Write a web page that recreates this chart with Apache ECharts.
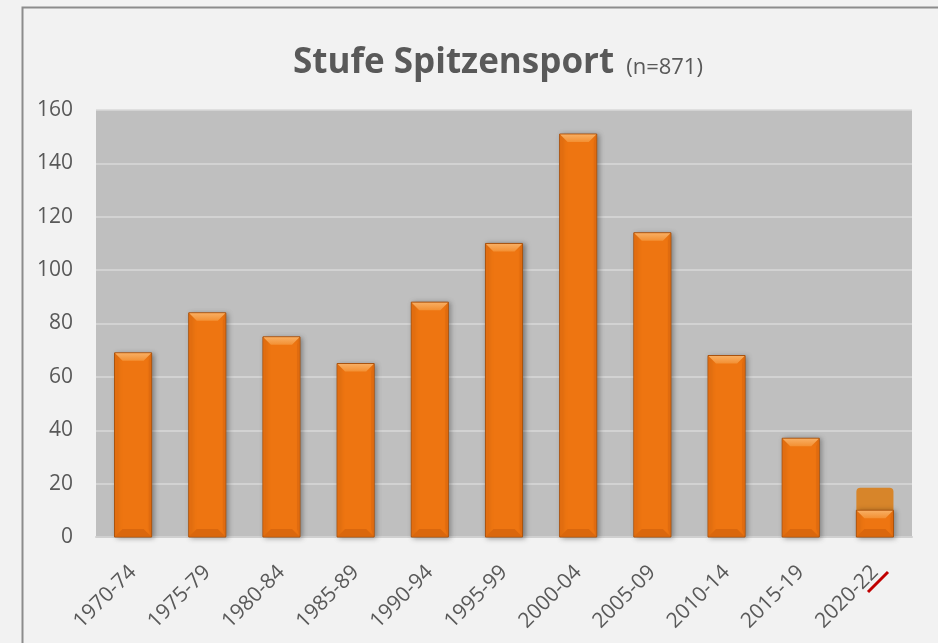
<!DOCTYPE html>
<html>
<head>
<meta charset="utf-8">
<script src="https://cdn.jsdelivr.net/npm/echarts@6/dist/echarts.min.js"></script>
<style>
html,body{margin:0;padding:0;background:#F2F2F2;}
#c{width:938px;height:643px;}
</style>
</head>
<body>
<div id="c"></div>
<script>
const categories = ['1970-74','1975-79','1980-84','1985-89','1990-94','1995-99','2000-04','2005-09','2010-14','2015-19','2020-22'];
const counts = [69, 84, 75, 65, 88, 110, 151, 114, 68, 37, 10];
const projected = [null, null, null, null, null, null, null, null, null, null, 18.5];
const yTicks = {min: 0, max: 160, step: 20};
const titleMain = 'Stufe Spitzensport';
const titleSub = '(n=871)';

const chart = echarts.init(document.getElementById('c'), null, {renderer: 'canvas'});

function barGeom(api) {
  const top = api.coord([api.value(0), api.value(1)]);
  const base = api.coord([api.value(0), 0]);
  const band = api.size([1, 0])[0];
  const w = band * 0.5;
  return {x: top[0] - w / 2, y: top[1], w: w, h: base[1] - top[1]};
}

function renderBevel(params, api) {
  const g = barGeom(api);
  const x = g.x, y = g.y, w = g.w, h = g.h;
  const b = Math.min(8, h / 2);
  return {
    type: 'group',
    children: [
      {type: 'rect', shape: {x: x, y: y, width: w, height: h},
        style: {fill: '#EE7511', stroke: '#A8520E', lineWidth: 1,
          shadowBlur: 5, shadowColor: 'rgba(0,0,0,0.35)', shadowOffsetX: 2, shadowOffsetY: 1}},
      {type: 'polygon', shape: {points: [[x + 0.5, y + 0.5], [x + w - 0.5, y + 0.5], [x + w - b, y + b], [x + b, y + b]]},
        style: {fill: new echarts.graphic.LinearGradient(0, 0, 0, 1, [{offset: 0, color: '#F8AE62'}, {offset: 1, color: '#F39033'}])}},
      {type: 'polygon', shape: {points: [[x + 0.5, y + h - 0.5], [x + w - 0.5, y + h - 0.5], [x + w - b, y + h - b], [x + b, y + h - b]]},
        style: {fill: '#DA670D'}},
      {type: 'polygon', shape: {points: [[x + 0.5, y + 0.5], [x + 3, y + b], [x + 3, y + h - b], [x + 0.5, y + h - 0.5]]},
        style: {fill: '#E26D10'}},
      {type: 'polygon', shape: {points: [[x + w - 0.5, y + 0.5], [x + w - 3, y + b], [x + w - 3, y + h - b], [x + w - 0.5, y + h - 0.5]]},
        style: {fill: '#E06B0F'}}
    ]
  };
}

function renderProj(params, api) {
  const g = barGeom(api);
  return {
    type: 'rect',
    shape: {x: g.x, y: g.y, width: g.w, height: g.h, r: [4, 4, 0, 0]},
    style: {fill: '#D7852A'}
  };
}

const projData = projected.map((v, i) => v == null ? null : [i, v]).filter(d => d);
const countData = counts.map((v, i) => [i, v]);

chart.setOption({
  backgroundColor: '#F2F2F2',
  animation: false,
  title: {
    text: '{b|' + titleMain + '}{g|}{s|' + titleSub + '}',
    left: 288,
    top: 41,
    textStyle: {
      rich: {
        b: {fontFamily: 'Open Sans', fontWeight: 'bold', fontSize: 35, color: '#595959'},
        g: {width: 12},
        s: {fontFamily: 'Open Sans', fontWeight: 'normal', fontSize: 22, color: '#595959', padding: [8, 0, 0, 0]}
      }
    }
  },
  grid: {left: 96, right: 26, top: 110, bottom: 106, show: true, backgroundColor: '#BFBFBF', borderWidth: 0},
  xAxis: {
    type: 'category',
    data: categories,
    axisLine: {show: true, lineStyle: {color: '#D0D0D0', width: 2}},
    axisTick: {show: false},
    axisLabel: {rotate: 45, fontFamily: 'Open Sans', fontSize: 21, color: '#595959', margin: 32, interval: 0}
  },
  yAxis: {
    type: 'value',
    min: yTicks.min, max: yTicks.max, interval: yTicks.step,
    axisLine: {show: false},
    axisTick: {show: false},
    axisLabel: {fontFamily: 'Open Sans', fontSize: 21, color: '#595959', margin: 23},
    splitLine: {lineStyle: {color: '#D9D9D9', width: 1.5}}
  },
  series: [
    {type: 'custom', renderItem: renderProj, data: projData, z: 2, encode: {x: 0, y: 1}},
    {type: 'custom', renderItem: renderBevel, data: countData, z: 3, encode: {x: 0, y: 1}}
  ],
  graphic: [
    {type: 'rect', left: 20, top: 5, shape: {width: 1000, height: 700}, style: {fill: 'none', stroke: '#8C8C8C', lineWidth: 2}, z: 100, silent: true},
    {type: 'line', shape: {x1: 868, y1: 592, x2: 888, y2: 572}, style: {stroke: '#C00000', lineWidth: 3}, z: 100, silent: true}
  ]
});
</script>
</body>
</html>
